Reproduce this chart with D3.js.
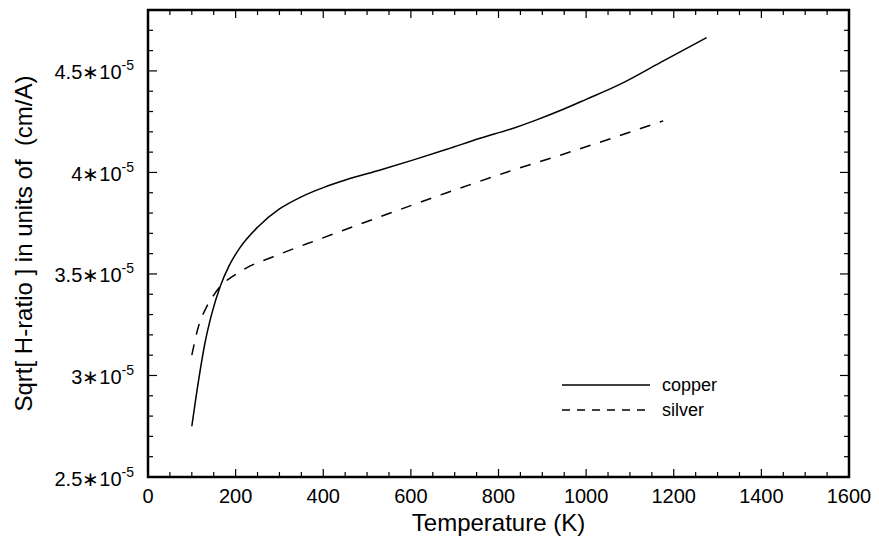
<!DOCTYPE html>
<html>
<head>
<meta charset="utf-8">
<script src="https://cdn.jsdelivr.net/npm/d3@7"></script>
<style>
  html, body { margin: 0; padding: 0; background: #fff; }
  svg text { font-family: "Liberation Sans", Arial, Helvetica, sans-serif; fill: #000; white-space: pre; }
</style>
</head>
<body>
<svg id="chart" width="879" height="550"></svg>
<script>
// Temperature (K) and Sqrt[H-ratio] (units of 1e-5 cm/A)
const copperT = [100, 115, 130, 145, 165, 185, 210, 250, 300, 350, 400, 454, 530, 606, 682, 758, 834, 887, 941, 1000, 1078, 1169, 1275];
const copperV = [2.75, 2.97, 3.16, 3.30, 3.44, 3.54, 3.63, 3.73, 3.82, 3.88, 3.925, 3.965, 4.012, 4.062, 4.114, 4.168, 4.218, 4.259, 4.305, 4.36, 4.435, 4.541, 4.664];
const silverT = [100, 115, 134, 153, 168, 195, 225, 286, 339, 377, 530, 682, 834, 941, 1176];
const silverV = [3.10, 3.24, 3.339, 3.405, 3.446, 3.49, 3.53, 3.585, 3.63, 3.66, 3.782, 3.90, 4.012, 4.085, 4.254];
const xTicks = [0, 200, 400, 600, 800, 1000, 1200, 1400, 1600];
const yTicks = [2.5, 3, 3.5, 4, 4.5];
const seriesNames = ["copper", "silver"];

const svg = d3.select("#chart");
const L = 148, R = 849, T = 10, B = 477;

const x = d3.scaleLinear().domain([0, 1600]).range([L, R]);
const y = d3.scaleLinear().domain([2.5, 4.8]).range([B, T]);

const xMinor = d3.range(0, 1601, 50).filter(v => v % 200 !== 0);
const yMinor = d3.range(25, 48, 1).map(v => v / 10).filter(v => Math.round(v * 10) % 5 !== 0);

// inward ticks on all four sides
const g = svg.append("g").attr("stroke", "#000").attr("stroke-width", 1.2);
xTicks.forEach(v => {
  g.append("line").attr("x1", x(v)).attr("x2", x(v)).attr("y1", B).attr("y2", B - 8);
  g.append("line").attr("x1", x(v)).attr("x2", x(v)).attr("y1", T).attr("y2", T + 8);
});
xMinor.forEach(v => {
  g.append("line").attr("x1", x(v)).attr("x2", x(v)).attr("y1", B).attr("y2", B - 5);
  g.append("line").attr("x1", x(v)).attr("x2", x(v)).attr("y1", T).attr("y2", T + 5);
});
yTicks.forEach(v => {
  g.append("line").attr("y1", y(v)).attr("y2", y(v)).attr("x1", L).attr("x2", L + 9);
  g.append("line").attr("y1", y(v)).attr("y2", y(v)).attr("x1", R).attr("x2", R - 9);
});
yMinor.forEach(v => {
  g.append("line").attr("y1", y(v)).attr("y2", y(v)).attr("x1", L).attr("x2", L + 5);
  g.append("line").attr("y1", y(v)).attr("y2", y(v)).attr("x1", R).attr("x2", R - 5);
});

// frame
svg.append("rect").attr("x", L).attr("y", T).attr("width", R - L).attr("height", B - T)
  .attr("fill", "none").attr("stroke", "#000").attr("stroke-width", 2.5);

// tick labels
svg.append("g").selectAll("text").data(xTicks).join("text")
  .attr("x", d => x(d)).attr("y", B + 26)
  .attr("text-anchor", "middle").attr("font-size", 20)
  .text(d => d);

const yl = svg.append("g").selectAll("text").data(yTicks).join("text")
  .attr("x", 134).attr("y", d => y(d) + 8.5)
  .attr("text-anchor", "end").attr("font-size", 20);
yl.append("tspan").text(d => d + "\u2217" + "10");
yl.append("tspan").attr("dy", -9).attr("font-size", 14).text("-5");

// axis titles
svg.append("text").attr("x", (L + R) / 2).attr("y", 531)
  .attr("text-anchor", "middle").attr("font-size", 24).text("Temperature (K)");
svg.append("text").attr("transform", `translate(32,${(T + B) / 2}) rotate(-90)`)
  .attr("text-anchor", "middle").attr("font-size", 24)
  .text("Sqrt[ H-ratio ] in units of  (cm/A)");

// curves
const line = d3.line().x(d => x(d[0])).y(d => y(d[1])).curve(d3.curveMonotoneX);
const copper = copperT.map((t, i) => [t, copperV[i]]);
const silver = silverT.map((t, i) => [t, silverV[i]]);
svg.append("path").datum(copper).attr("d", line)
  .attr("fill", "none").attr("stroke", "#000").attr("stroke-width", 1.5);
svg.append("path").datum(silver).attr("d", line)
  .attr("fill", "none").attr("stroke", "#000").attr("stroke-width", 1.5)
  .attr("stroke-dasharray", "11,10");

// legend
const lg = svg.append("g");
[0, 1].forEach(i => {
  const ly = 385 + i * 25;
  lg.append("line").attr("x1", 562).attr("x2", 650).attr("y1", ly).attr("y2", ly)
    .attr("stroke", "#000").attr("stroke-width", 1.5)
    .attr("stroke-dasharray", i === 1 ? "8,7" : null);
  lg.append("text").attr("x", 662).attr("y", ly + 6).attr("font-size", 18).text(seriesNames[i]);
});
</script>
</body>
</html>
